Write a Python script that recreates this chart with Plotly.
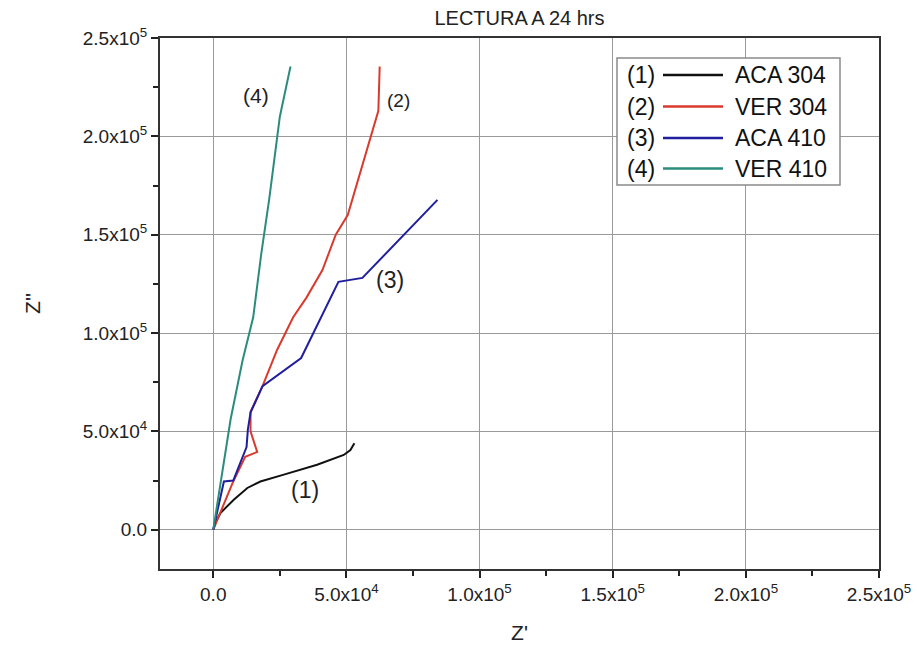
import plotly.graph_objects as go

# ---------------- data ----------------
series_names = ["ACA 304", "VER 304", "ACA 410", "VER 410"]
series_tags = ["(1)", "(2)", "(3)", "(4)"]
series_colors = ["#111111", "#d93a2e", "#1f1f9e", "#2b8c7c"]

aca304_x = [0, 1000, 2700, 7700, 12800, 17700, 26500, 39000, 49000, 51500, 53000]
aca304_y = [0, 4000, 8500, 15200, 21200, 24500, 28000, 33000, 38000, 40500, 44000]

ver304_x = [0, 7500, 12000, 16500, 14000, 14000, 18500, 24000, 30000, 35000, 41000,
            46000, 50500, 61000, 62000, 62500]
ver304_y = [0, 24500, 37000, 39500, 50000, 60000, 73000, 91500, 108000, 118000, 132000,
            150000, 160000, 209500, 213000, 235500]

aca410_x = [0, 4000, 7500, 12500, 13000, 14000, 18500, 33000, 47000, 56000, 84200]
aca410_y = [0, 24500, 25000, 42000, 51000, 59500, 73000, 87300, 126000, 128000, 167700]

ver410_x = [0, 2500, 6500, 11000, 15000, 18000, 21000, 25000, 29000]
ver410_y = [0, 22000, 56000, 86000, 108000, 140000, 168000, 210000, 235500]

series_x = [aca304_x, ver304_x, aca410_x, ver410_x]
series_y = [aca304_y, ver304_y, aca410_y, ver410_y]

# in-plot curve labels (data coordinates)
label_x = [34300, 69500, 66500, 15900]
label_y = [20300, 218000, 127000, 221000]
label_size = [23, 19, 23, 21]

tick_vals = [0, 50000, 100000, 150000, 200000, 250000]
tick_text = ["0.0", "5.0x10<sup>4</sup>", "1.0x10<sup>5</sup>", "1.5x10<sup>5</sup>",
             "2.0x10<sup>5</sup>", "2.5x10<sup>5</sup>"]
minor_vals = [25000, 75000, 125000, 175000, 225000]

title_text = "LECTURA A 24 hrs"
x_title = "Z'"
y_title = "Z''"

# ---------------- figure ----------------
W, H = 917, 653
L, R, T, B = 160, 38, 38, 84
FONT = "Liberation Sans, Arial, sans-serif"

fig = go.Figure()
for xs, ys, nm, col in zip(series_x, series_y, series_names, series_colors):
    fig.add_trace(go.Scatter(x=xs, y=ys, mode="lines", name=nm,
                             line=dict(color=col, width=2), showlegend=False))

for tg, lx, ly, fs in zip(series_tags, label_x, label_y, label_size):
    fig.add_annotation(x=lx, y=ly, xref="x", yref="y", text=tg, showarrow=False,
                       font=dict(size=fs, color="#222222", family=FONT))

# manual legend matching the "(n) ——— NAME" style
pw, ph = W - L - R, H - T - B
def px(xp):
    return (xp - L) / pw
def py(yp):
    return (H - B - yp) / ph

fig.add_shape(type="rect", xref="paper", yref="paper",
              x0=px(617), x1=px(840), y0=py(185), y1=py(58),
              line=dict(color="#8a8a8a", width=1.5), fillcolor="white", layer="above")
row_y = [75, 106.5, 138, 168.5]
for tg, nm, col, ry in zip(series_tags, series_names, series_colors, row_y):
    fig.add_annotation(x=px(641), y=py(ry), xref="paper", yref="paper", text=tg,
                       showarrow=False, font=dict(size=23, color="#111111", family=FONT),
                       xanchor="center", yanchor="middle")
    fig.add_shape(type="line", xref="paper", yref="paper", x0=px(663), x1=px(723),
                  y0=py(ry), y1=py(ry), line=dict(color=col, width=2.5), layer="above")
    fig.add_annotation(x=px(733), y=py(ry), xref="paper", yref="paper", text=nm,
                       showarrow=False, font=dict(size=23, color="#111111", family=FONT),
                       xanchor="left", yanchor="middle")

axis_common = dict(
    tickvals=tick_vals, ticktext=tick_text, ticks="outside", ticklen=7, tickwidth=1.5,
    tickcolor="#222222", showline=True, linecolor="#333333", linewidth=2, mirror=True,
    showgrid=True, gridcolor="#9a9a9a", gridwidth=1, zeroline=True,
    zerolinecolor="#9a9a9a", zerolinewidth=1, automargin=False,
    tickfont=dict(size=19, color="#222222", family=FONT),
    minor=dict(tickvals=minor_vals, ticks="outside", ticklen=5, tickwidth=1.5,
               tickcolor="#222222", showgrid=False),
)

fig.update_layout(
    width=W, height=H, margin=dict(l=L, r=R, t=T, b=B),
    paper_bgcolor="white", plot_bgcolor="white",
    title=dict(text=title_text, x=(L + (W - L - R) / 2) / W, xanchor="center",
               y=1 - 18 / H, yanchor="middle",
               font=dict(size=20, color="#222222", family=FONT)),
    xaxis=dict(range=[-20000, 250000],
               title=dict(text=x_title, font=dict(size=21, color="#222222", family=FONT),
                          standoff=22),
               **axis_common),
    yaxis=dict(range=[-20000, 250000],
               title=dict(text=y_title, font=dict(size=21, color="#222222", family=FONT),
                          standoff=36),
               **axis_common),
)

fig.write_html("out.html")
